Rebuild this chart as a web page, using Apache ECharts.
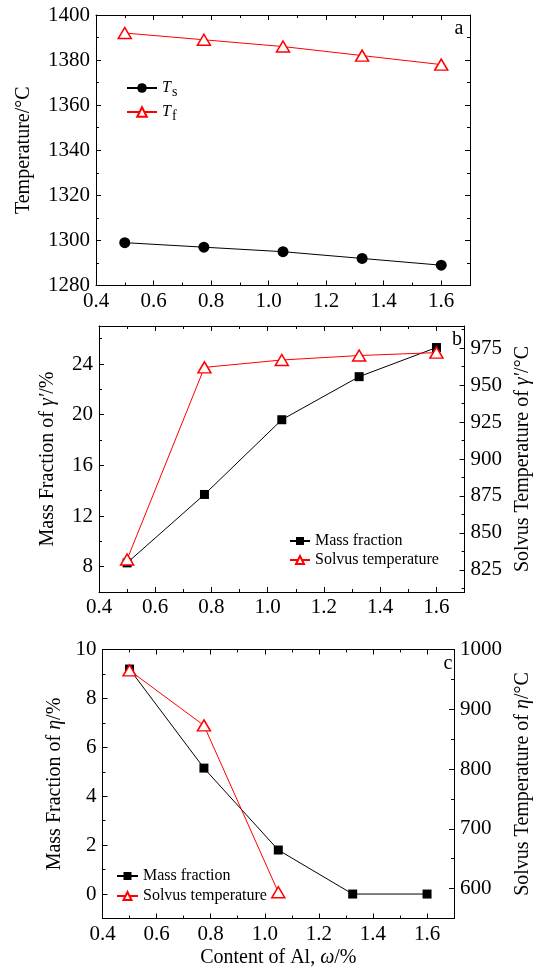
<!DOCTYPE html>
<html>
<head>
<meta charset="utf-8">
<script src="https://cdn.jsdelivr.net/npm/echarts@6/dist/echarts.min.js"></script>
<style>
  html, body { margin: 0; padding: 0; background: #fff; }
  #main { width: 541px; height: 978px; }
</style>
</head>
<body>
<div id="main"></div>
<script>
// Al 含量 (横轴)
const alContent = [0.5, 0.775, 1.05, 1.325, 1.6];
// a 图: 固相线 / 液相线
const tsTemp = [1299, 1297, 1295, 1292, 1289];
const tfTemp = [1392, 1389, 1386, 1382, 1378];
// b 图: γ' 质量分数 / 溶解温度
const gpMass = [8.3, 13.7, 19.6, 23.0, 25.3];
const gpSolvus = [832, 962, 967, 970, 972];
// c 图: η 质量分数 / 溶解温度 (只有前三个点)
const etaMass = [9.2, 5.15, 1.8, 0, 0];
const etaSolvus = [965, 873, 594];

// 刻度
const bLeftMajor = [8, 12, 16, 20, 24];
const bLeftMinor = [10, 14, 18, 22, 26];
const bRightMajor = [825, 850, 875, 900, 925, 950, 975];
const bRightMinor = [812.5, 837.5, 862.5, 887.5, 912.5, 937.5, 962.5, 987.5];
const cLeftMajor = [0, 2, 4, 6, 8, 10];
const cLeftMinor = [1, 3, 5, 7, 9];
const cRightMajor = [600, 700, 800, 900, 1000];
const cRightMinor = [650, 750, 850, 950];

const FONT = 'Liberation Serif';
const RED = '#ff0000';

let chart = echarts.init(document.getElementById('main'), null, { renderer: 'canvas' });

function pairs(xs, ys) {
  return ys.map((y, i) => [xs[i], y]);
}

//通用坐标轴
function axis(extra) {
  let a = {
    type: 'value',
    axisLine: { show: true, onZero: false, lineStyle: { color: '#000', width: 1 } },
    axisTick: { show: true, inside: true, length: 5, lineStyle: { color: '#000', width: 1 } },
    minorTick: { show: false },
    splitLine: { show: false },
    axisLabel: { show: true, color: '#000', fontFamily: FONT, fontSize: 21, margin: 6, formatter: v => String(v) }
  };
  for (let k in extra) {
    if (typeof extra[k] === 'object' && a[k] && !Array.isArray(extra[k])) {
      a[k] = Object.assign({}, a[k], extra[k]);
    } else {
      a[k] = extra[k];
    }
  }
  return a;
}

function xAxes(grid, withName) {
  let bottom = axis({
    gridIndex: grid, position: 'bottom', min: 0.4, max: 1.7, interval: 0.2,
    minorTick: { show: true, splitNumber: 2, length: 3, lineStyle: { color: '#000' } },
    axisLabel: { formatter: v => v.toFixed(1), showMaxLabel: false, margin: 5 }
  });
  if (withName) {
    bottom.name = 'Content of Al, {i|ω}/%';
    bottom.nameLocation = 'middle';
    bottom.nameGap = 29;
    bottom.nameTextStyle = {
      color: '#000', fontFamily: FONT, fontSize: 20,
      rich: { i: { fontFamily: FONT, fontSize: 20, fontStyle: 'italic', color: '#000' } }
    };
  }
  let top = axis({
    gridIndex: grid, position: 'top', min: 0.4, max: 1.7, interval: 0.2,
    minorTick: { show: true, splitNumber: 2, length: 3, lineStyle: { color: '#000' } },
    axisLabel: { show: false }
  });
  return [bottom, top];
}

function nameStyle() {
  return {
    color: '#000', fontFamily: FONT, fontSize: 20,
    rich: { i: { fontFamily: FONT, fontSize: 20, fontStyle: 'italic', color: '#000' } }
  };
}

//刻度只画短线的辅助轴
function minorAxis(grid, pos, min, max, vals) {
  return axis({
    gridIndex: grid, position: pos, min, max,
    axisLine: { show: false },
    axisTick: { length: 3, customValues: vals },
    axisLabel: { show: false }
  });
}

let xAxis = [].concat(xAxes(0, false), xAxes(1, false), xAxes(2, true));

let yAxis = [
  // a
  axis({
    gridIndex: 0, position: 'left', min: 1280, max: 1400, interval: 20,
    minorTick: { show: true, splitNumber: 2, length: 3, lineStyle: { color: '#000' } },
    name: 'Temperature/°C', nameLocation: 'middle', nameGap: 62, nameTextStyle: nameStyle()
  }),
  axis({
    gridIndex: 0, position: 'right', min: 1280, max: 1400, interval: 20,
    minorTick: { show: true, splitNumber: 2, length: 3, lineStyle: { color: '#000' } },
    axisLabel: { show: false }
  }),
  // b
  axis({
    gridIndex: 1, position: 'left', min: 6, max: 27,
    axisTick: { customValues: bLeftMajor },
    axisLabel: { customValues: bLeftMajor },
    name: 'Mass Fraction of {i|γ′}/%', nameLocation: 'middle', nameGap: 41, nameTextStyle: nameStyle()
  }),
  minorAxis(1, 'left', 6, 27, bLeftMinor),
  axis({
    gridIndex: 1, position: 'right', min: 810, max: 990,
    axisTick: { customValues: bRightMajor },
    axisLabel: { customValues: bRightMajor },
    name: 'Solvus Temperature of {i|γ′}/°C', nameLocation: 'middle', nameGap: 44, nameTextStyle: nameStyle()
  }),
  minorAxis(1, 'right', 810, 990, bRightMinor),
  // c
  axis({
    gridIndex: 2, position: 'left', min: -1, max: 10,
    axisTick: { customValues: cLeftMajor },
    axisLabel: { customValues: cLeftMajor },
    name: 'Mass Fraction of {i|η}/%', nameLocation: 'middle', nameGap: 28, nameTextStyle: nameStyle()
  }),
  minorAxis(2, 'left', -1, 10, cLeftMinor),
  axis({
    gridIndex: 2, position: 'right', min: 550, max: 1000,
    axisTick: { customValues: cRightMajor },
    axisLabel: { customValues: cRightMajor },
    name: 'Solvus Temperature of {i|η}/°C', nameLocation: 'middle', nameGap: 48, nameTextStyle: nameStyle()
  }),
  minorAxis(2, 'right', 550, 1000, cRightMinor)
];

//黑色实心
function blackSeries(name, xi, yi, data, symbol, size) {
  return {
    name, type: 'line', xAxisIndex: xi, yAxisIndex: yi, data,
    symbol, symbolSize: size, showSymbol: true,
    lineStyle: { color: '#000', width: 1 },
    itemStyle: { color: '#000' },
    emphasis: { disabled: true },
    animation: false
  };
}
//红色空心三角
function redSeries(name, xi, yi, data) {
  return {
    name, type: 'line', xAxisIndex: xi, yAxisIndex: yi, data,
    symbol: 'triangle', symbolSize: [13, 11], showSymbol: true,
    lineStyle: { color: RED, width: 1 },
    itemStyle: { color: '#fff', borderColor: RED, borderWidth: 1.5 },
    emphasis: { disabled: true },
    animation: false
  };
}

let series = [
  blackSeries('Ts', 0, 0, pairs(alContent, tsTemp), 'circle', 11),
  redSeries('Tf', 0, 0, pairs(alContent, tfTemp)),
  blackSeries('b-Mass fraction', 2, 2, pairs(alContent, gpMass), 'rect', 9),
  redSeries('b-Solvus temperature', 2, 4, pairs(alContent, gpSolvus)),
  blackSeries('c-Mass fraction', 4, 6, pairs(alContent, etaMass), 'rect', 9),
  redSeries('c-Solvus temperature', 4, 8, pairs(alContent, etaSolvus))
];

function legendItem(name, left, top, w, h, fmt, textStyle) {
  return {
    data: [name], left, top, orient: 'vertical', padding: 0,
    itemWidth: w, itemHeight: h, itemGap: 0,
    selectedMode: false,
    formatter: fmt,
    textStyle
  };
}

const subRich = {
  t: { fontFamily: FONT, fontSize: 16, fontStyle: 'italic', color: '#000', lineHeight: 16 },
  s: { fontFamily: FONT, fontSize: 14, color: '#000', lineHeight: 14, padding: [8, 0, 0, 1] }
};
const smallText = { fontFamily: FONT, fontSize: 16, color: '#000' };

let legend = [
  legendItem('Ts', 126, 77, 30, 12, () => '{t|T}{s|s}', { rich: subRich }),
  legendItem('Tf', 126, 101, 30, 12, () => '{t|T}{s|f}', { rich: subRich }),
  legendItem('b-Mass fraction', 289, 533, 20, 10, n => n.slice(2), smallText),
  legendItem('b-Solvus temperature', 289, 552, 20, 10, n => n.slice(2), smallText),
  legendItem('c-Mass fraction', 116, 868, 21, 10, n => n.slice(2), smallText),
  legendItem('c-Solvus temperature', 116, 888, 21, 10, n => n.slice(2), smallText)
];

function panelLabel(text, x, y) {
  return {
    type: 'text', x, y, silent: true,
    style: {
      text, fill: '#000', font: '20px "Liberation Serif"',
      textAlign: 'center', textVerticalAlign: 'middle', align: 'center', verticalAlign: 'middle'
    }
  };
}

chart.setOption({
  backgroundColor: '#ffffff',
  animation: false,
  textStyle: { fontFamily: FONT, color: '#000' },
  grid: [
    { left: 96, top: 15, right: 71, height: 270.5 },
    { left: 99, top: 326, right: 74, height: 266 },
    { left: 102.5, top: 649.5, right: 77, height: 269 }
  ],
  xAxis,
  yAxis,
  legend,
  series,
  graphic: [
    panelLabel('a', 459, 29),
    panelLabel('b', 457, 340),
    panelLabel('c', 448, 664)
  ]
});
</script>
</body>
</html>
